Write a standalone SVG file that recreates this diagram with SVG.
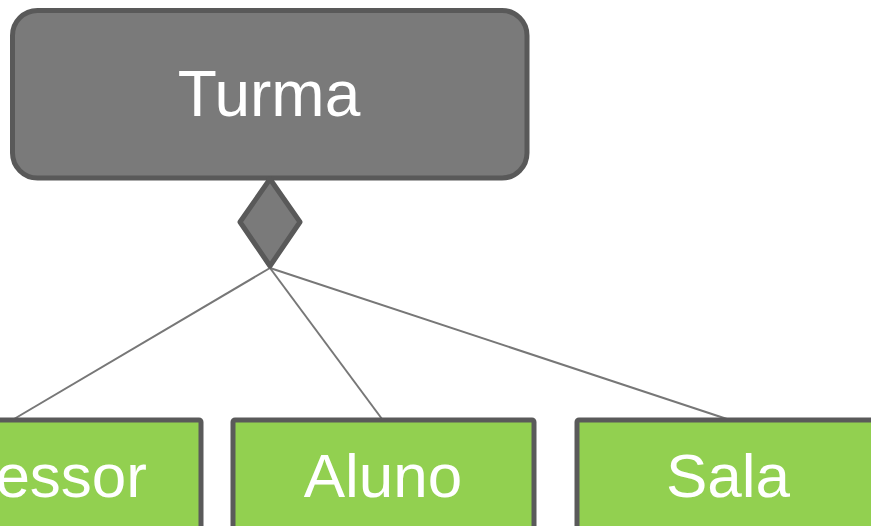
<svg xmlns="http://www.w3.org/2000/svg" width="871" height="526" viewBox="0 0 871 526">
<style>
.lbl{font-family:"Liberation Sans",Arial,sans-serif;font-size:62px;fill:#ffffff;text-anchor:middle}
.cls{fill:#92d050;stroke:#5a5a5a;stroke-width:5}
.conn{stroke:#777777;stroke-width:2;fill:none}
</style>
<rect width="871" height="526" fill="#ffffff"/>
<g id="connectors">
<line class="conn" x1="270" y1="268" x2="14" y2="419"/>
<line class="conn" x1="270" y1="268" x2="382" y2="419"/>
<line class="conn" x1="270" y1="268" x2="727" y2="419"/>
</g>
<g id="turma">
<rect x="12.5" y="10.5" width="514.5" height="167.5" rx="25" ry="25" fill="#7a7a7a" stroke="#595959" stroke-width="5"/>
<text class="lbl" x="269" y="116" style="font-size:64px">Turma</text>
</g>
<g id="aggregation">
<polygon points="270,179 300,222 270,266 240,222" fill="#7a7a7a" stroke="#595959" stroke-width="5" stroke-linejoin="round"/>
</g>
<g id="professor">
<rect class="cls" x="-170" y="420" width="371" height="120" rx="2"/>
<text class="lbl" x="147" y="497" style="text-anchor:end">Professor</text>
</g>
<g id="aluno">
<rect class="cls" x="233" y="420" width="301" height="120" rx="2"/>
<text class="lbl" x="383" y="497">Aluno</text>
</g>
<g id="sala">
<rect class="cls" x="577" y="420" width="300" height="120" rx="2"/>
<text class="lbl" x="728" y="497">Sala</text>
</g>
</svg>
